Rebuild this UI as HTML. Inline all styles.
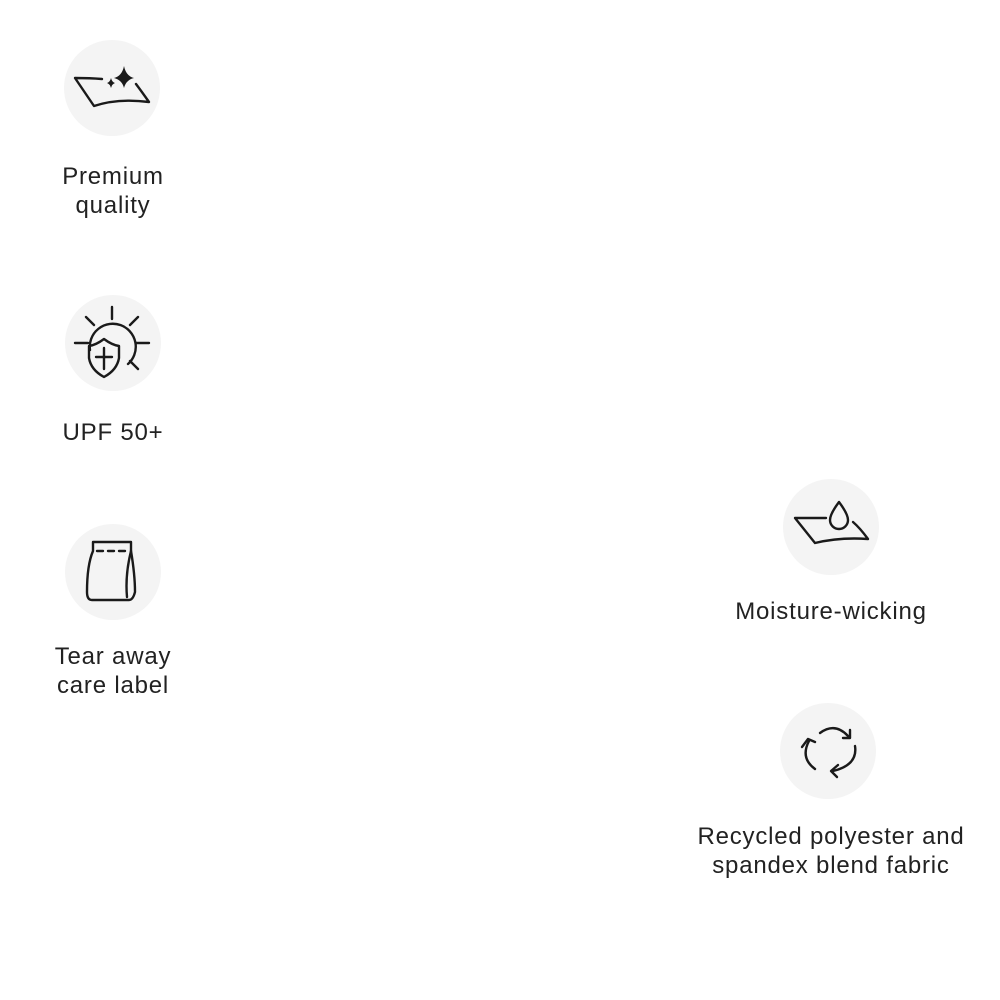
<!DOCTYPE html>
<html><head><meta charset="utf-8"><style>
html,body{margin:0;padding:0;background:#fff;width:1000px;height:1000px;overflow:hidden}
svg{display:block}
text{font-family:"Liberation Sans",sans-serif;font-size:24px;letter-spacing:0.8px;fill:#222;text-anchor:middle}
</style></head><body>
<svg width="1000" height="1000" viewBox="0 0 1000 1000" xmlns="http://www.w3.org/2000/svg">
<g fill="#f4f4f4">
<circle cx="112" cy="88" r="48"/>
<circle cx="113" cy="343" r="48"/>
<circle cx="113" cy="572" r="48"/>
<circle cx="831" cy="527" r="48"/>
<circle cx="828" cy="751" r="48"/>
</g>
<g fill="none" stroke="#1a1a1a" stroke-width="2.4" stroke-linecap="round" stroke-linejoin="round">
<path d="M102 79 Q90 78 75 78 L94 106 Q118 98 149 102 Q142 92 136 84"/>
<path d="M90 350 A23 23 0 1 1 128 364"/>
<path d="M112 307 V319 M86 317 L94 325 M138 317 L130 325 M75 343 H88 M136 343 H149 M130 361 L138 369"/>
<path d="M104 339 Q96 345 89 346 V358 Q91 370 104 377 Q117 370 119 358 V346 Q112 345 104 339Z"/>
<path d="M104 348 V369 M96 357 H112"/>
<path d="M93 542 H131 V551 Q135 575 135 592 Q133 600 129 600 H92 Q87 600 87 592 Q87 565 93 551 Z"/>
<path d="M131 551 Q125 575 127 597"/>
<path d="M97 551 H129" stroke-dasharray="6 5"/>
<path d="M826 518 H795 L815 543 Q840 537 868 539 Q860 528 853 522"/>
<path d="M839 502 Q830 514 830 520 A9 9 0 0 0 848 520 Q848 514 839 502Z"/>
<path d="M820 733 Q835 722 848 736"/><path d="M843 738 H850 V730"/>
<path d="M855 746 Q858 765 833 771"/><path d="M838 765 L831 771 L837 777"/>
<path d="M809 741 Q800 758 815 769"/><path d="M802 747 L808 739 L815 742"/>
</g>
<g fill="#1a1a1a">
<path d="M124 66 Q126 76 134 78 Q126 80 124 88 Q122 80 114 78 Q122 76 124 66Z"/>
<path d="M111 78 Q112 82 115 83 Q112 84 111 88 Q110 84 107 83 Q110 82 111 78Z"/>
</g>
<text x="113" y="184">Premium</text>
<text x="113" y="213">quality</text>
<text x="113" y="440">UPF 50+</text>
<text x="113" y="664">Tear away</text>
<text x="113" y="693">care label</text>
<text x="831" y="619">Moisture-wicking</text>
<text x="831" y="844">Recycled polyester and</text>
<text x="831" y="873">spandex blend fabric</text>
</svg>
</body></html>
